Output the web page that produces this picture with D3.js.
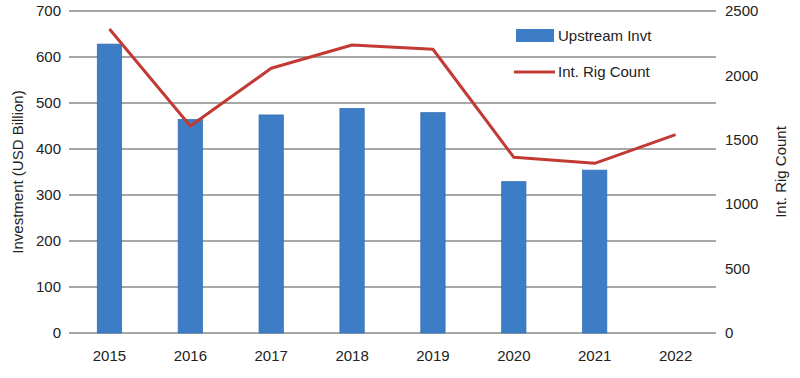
<!DOCTYPE html>
<html>
<head>
<meta charset="utf-8">
<script src="https://cdn.jsdelivr.net/npm/d3@7"></script>
<style>
  body { margin: 0; background: #fff; }
  svg { font-family: "Liberation Sans", Arial, sans-serif; }
</style>
</head>
<body>
<svg id="chart" width="800" height="378"></svg>
<script>
const years = ['2015', '2016', '2017', '2018', '2019', '2020', '2021', '2022'];
const investment = [628, 464, 474, 488, 479, 329, 354, null];
const rigCount = [2360, 1607, 2055, 2236, 2203, 1364, 1317, 1540];
const leftTicks = [0, 100, 200, 300, 400, 500, 600, 700];
const rightTicks = [0, 500, 1000, 1500, 2000, 2500];

const svg = d3.select('#chart');
const margin = { left: 69, right: 84, top: 11, bottom: 45 };
const width = 800, height = 378;

const x = d3.scaleBand()
  .domain(years)
  .range([margin.left, width - margin.right])
  .paddingInner(0.7)
  .paddingOuter(0.35);

const yL = d3.scaleLinear().domain([0, 700]).range([height - margin.bottom, margin.top]);
const yR = d3.scaleLinear().domain([0, 2500]).range([height - margin.bottom, margin.top]);

// gridlines
svg.append('g')
  .selectAll('line')
  .data(leftTicks)
  .enter().append('line')
  .attr('x1', margin.left)
  .attr('x2', width - margin.right)
  .attr('y1', d => yL(d))
  .attr('y2', d => yL(d))
  .style('stroke', '#8a8a8a')
  .style('stroke-width', 1.5);

// left axis labels
svg.append('g')
  .selectAll('text')
  .data(leftTicks)
  .enter().append('text')
  .attr('x', margin.left - 8)
  .attr('y', d => yL(d))
  .attr('dy', '0.35em')
  .attr('text-anchor', 'end')
  .style('font-size', '15px')
  .style('fill', '#222')
  .text(d => d);

// right axis labels
svg.append('g')
  .selectAll('text')
  .data(rightTicks)
  .enter().append('text')
  .attr('x', width - margin.right + 9)
  .attr('y', d => yR(d))
  .attr('dy', '0.35em')
  .attr('text-anchor', 'start')
  .style('font-size', '15px')
  .style('fill', '#222')
  .text(d => d);

// x labels
svg.append('g')
  .selectAll('text')
  .data(years)
  .enter().append('text')
  .attr('x', d => x(d) + x.bandwidth() / 2)
  .attr('y', height - margin.bottom + 28)
  .attr('text-anchor', 'middle')
  .style('font-size', '15px')
  .style('fill', '#222')
  .text(d => d);

// bars
svg.append('g')
  .selectAll('rect')
  .data(years.map((d, i) => ({ year: d, v: investment[i] })).filter(d => d.v != null))
  .enter().append('rect')
  .attr('x', d => x(d.year))
  .attr('width', x.bandwidth())
  .attr('y', d => yL(d.v))
  .attr('height', d => yL(0) - yL(d.v))
  .style('fill', '#3d7dc5')
  .style('stroke', '#3370b5')
  .style('stroke-width', 0.8);

// line
const line = d3.line()
  .x((d, i) => x(years[i]) + x.bandwidth() / 2)
  .y(d => yR(d));

svg.append('path')
  .datum(rigCount)
  .attr('d', line)
  .style('fill', 'none')
  .style('stroke', '#c23a33')
  .style('stroke-width', 3)
  .style('stroke-linejoin', 'round');

// axis titles
svg.append('text')
  .attr('transform', `translate(23,${(margin.top + height - margin.bottom) / 2}) rotate(-90)`)
  .attr('text-anchor', 'middle')
  .style('font-size', '15px')
  .style('fill', '#222')
  .text('Investment (USD Billion)');

svg.append('text')
  .attr('transform', `translate(786,${(margin.top + height - margin.bottom) / 2}) rotate(-90)`)
  .attr('text-anchor', 'middle')
  .style('font-size', '15px')
  .style('fill', '#222')
  .text('Int. Rig Count');

// legend
const legend = svg.append('g').attr('transform', 'translate(516,29)');
legend.append('rect')
  .attr('width', 38).attr('height', 13)
  .style('fill', '#3d7dc5');
legend.append('text')
  .attr('x', 42).attr('y', 6.5).attr('dy', '0.35em')
  .style('font-size', '15px').style('fill', '#222')
  .text('Upstream Invt');
legend.append('line')
  .attr('x1', -2).attr('x2', 39).attr('y1', 43).attr('y2', 43)
  .style('stroke', '#c23a33').style('stroke-width', 3);
legend.append('text')
  .attr('x', 42).attr('y', 43).attr('dy', '0.35em')
  .style('font-size', '15px').style('fill', '#222')
  .text('Int. Rig Count');
</script>
</body>
</html>
